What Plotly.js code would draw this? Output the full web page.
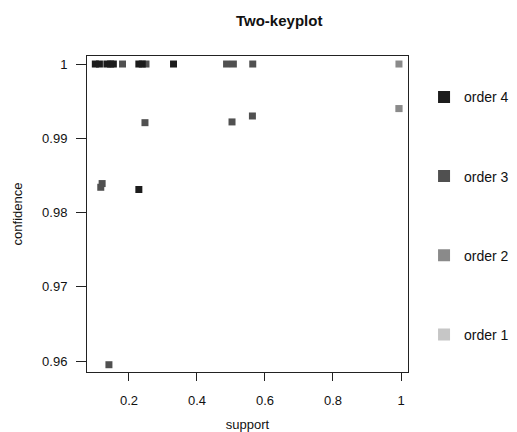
<!DOCTYPE html>
<html><head><meta charset="utf-8">
<script src="https://cdn.plot.ly/plotly-3.0.1.min.js"></script>
<style>html,body{margin:0;padding:0;background:#fff}#chart{width:517px;height:432px}</style>
</head><body><div id="chart"></div>
<script>
// order 4 rules
const order4Support = [0.101, 0.113, 0.135, 0.146, 0.154, 0.229, 0.239, 0.331, 0.229];
const order4Confidence = [1, 1, 1, 1, 1, 1, 1, 1, 0.9831];
// order 3 rules
const order3Support = [0.181, 0.250, 0.487, 0.507, 0.564, 0.247, 0.503, 0.563, 0.117, 0.121, 0.141];
const order3Confidence = [1, 1, 1, 1, 1, 0.9921, 0.9922, 0.9930, 0.9834, 0.9839, 0.9595];
// order 2 rules
const order2Support = [0.994, 0.994];
const order2Confidence = [1, 0.9940];
// order 1 rules (hidden beneath the order 2 mark)
const order1Support = [0.994];
const order1Confidence = [0.9940];

const seriesNames = ['order 1', 'order 2', 'order 3', 'order 4'];
const seriesColors = ['#c6c6c6', '#8a8a8a', '#505050', '#1c1c1c'];
const xTicks = [0.2, 0.4, 0.6, 0.8, 1];
const xTickLabels = ['0.2', '0.4', '0.6', '0.8', '1'];
const yTicks = [0.96, 0.97, 0.98, 0.99, 1];
const yTickLabels = ['0.96', '0.97', '0.98', '0.99', '1'];

const xs = [order1Support, order2Support, order3Support, order4Support];
const ys = [order1Confidence, order2Confidence, order3Confidence, order4Confidence];

const traces = seriesNames.map((n, i) => ({
  type: 'scatter', mode: 'markers', name: n, x: xs[i], y: ys[i],
  legendgroup: n, legendrank: 1000 - i,
  marker: {symbol: 'square', size: 7, color: seriesColors[i], line: {width: 0}}
}));

const font = {family: 'Liberation Sans, Arial, sans-serif', color: '#111'};
const layout = {
  width: 517, height: 432,
  margin: {l: 87, r: 109, t: 56, b: 60, autoexpand: false},
  paper_bgcolor: '#fff', plot_bgcolor: '#fff',
  font: Object.assign({size: 13}, font),
  title: {text: '<b>Two-keyplot</b>', x: 0.54, xref: 'container', xanchor: 'center', y: 0.953, yref: 'container', yanchor: 'middle', font: Object.assign({size: 15}, font)},
  xaxis: {
    range: [0.0765, 1.0206], tickvals: xTicks, ticktext: xTickLabels,
    showgrid: false, zeroline: false, showline: true, mirror: true, linecolor: '#222', linewidth: 1,
    ticks: 'outside', ticklen: 8, tickcolor: '#222', tickfont: Object.assign({size: 13}, font),
    ticklabelstandoff: 8,
    title: {text: 'support', font: Object.assign({size: 13}, font), standoff: 14}
  },
  yaxis: {
    range: [0.95852, 1.00108], tickvals: yTicks, ticktext: yTickLabels,
    showgrid: false, zeroline: false, showline: true, mirror: true, linecolor: '#222', linewidth: 1,
    ticks: 'outside', ticklen: 10, tickcolor: '#222', tickfont: Object.assign({size: 13}, font),
    ticklabelstandoff: 6,
    title: {text: 'confidence', font: Object.assign({size: 13}, font), standoff: 16}
  },
  showlegend: true,
  legend: {x: 1.05, xanchor: 'left', y: 0.92, yanchor: 'top', tracegroupgap: 58,
    traceorder: 'grouped', font: Object.assign({size: 14}, font), itemsizing: 'constant', itemwidth: 30, bgcolor: 'rgba(0,0,0,0)'}
};
Plotly.newPlot('chart', traces, layout, {displayModeBar: false, staticPlot: true});
</script></body></html>
